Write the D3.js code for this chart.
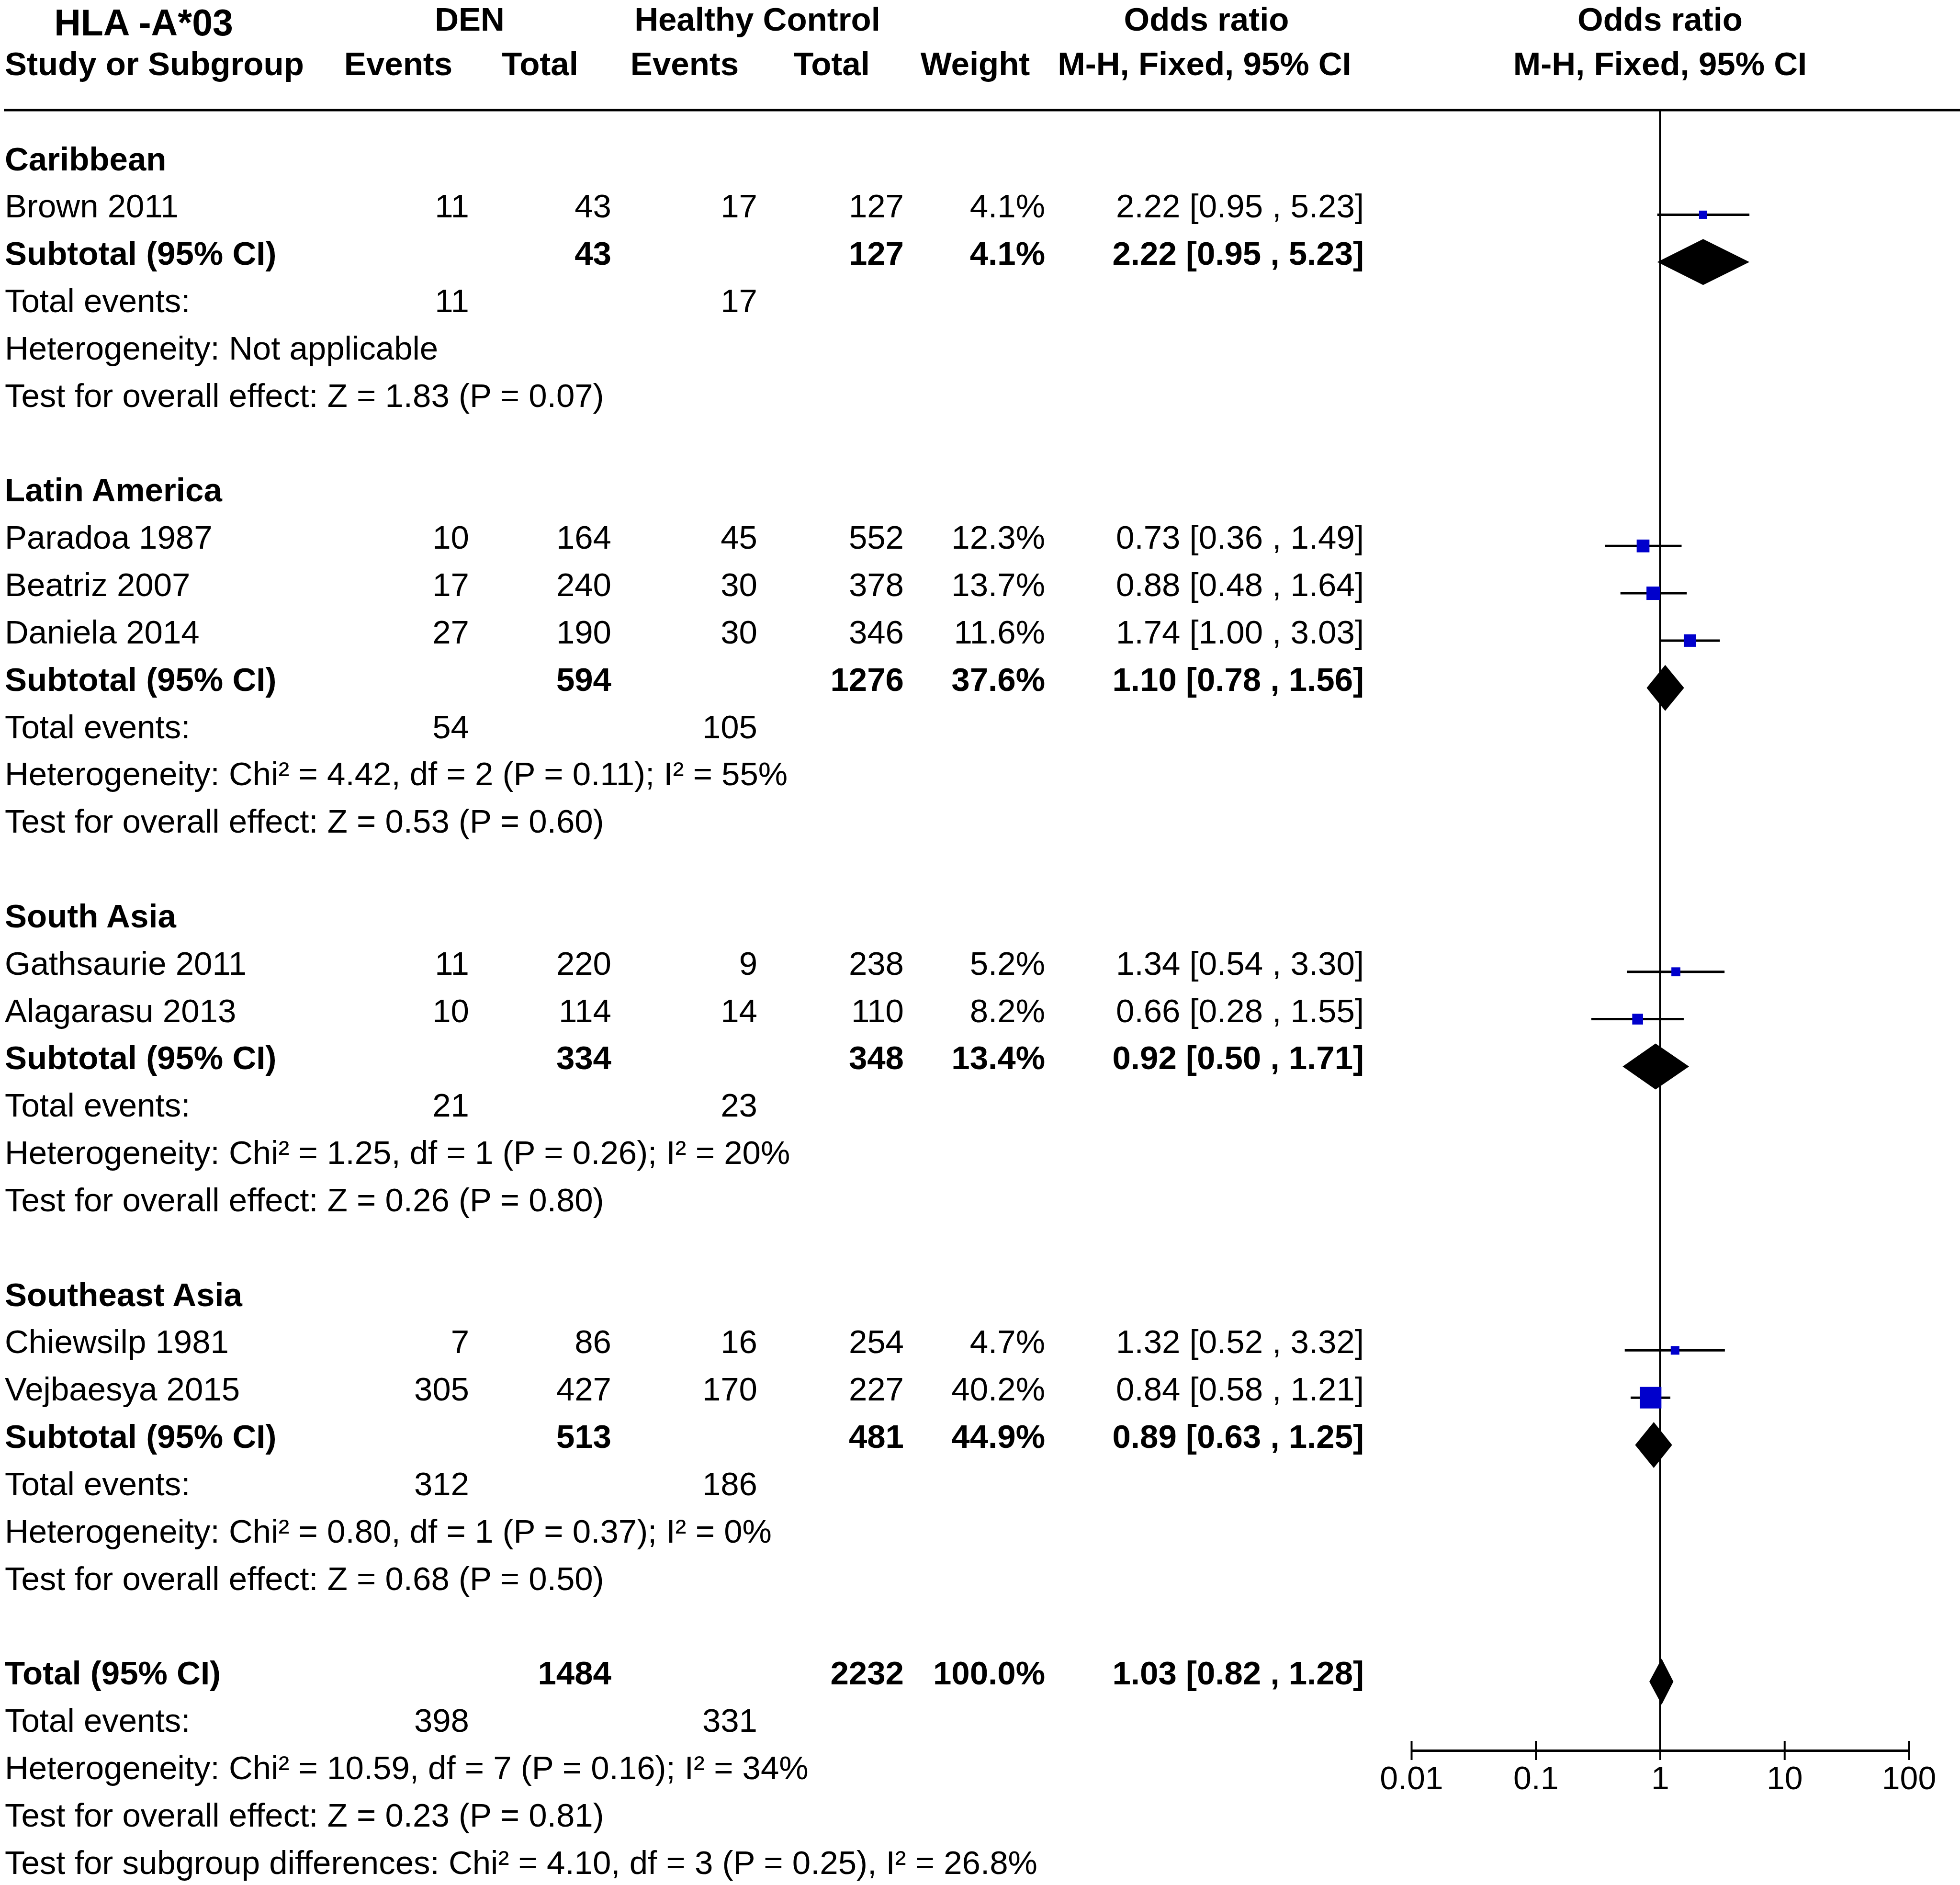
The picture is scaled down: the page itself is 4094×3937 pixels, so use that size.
<!DOCTYPE html>
<html>
<head>
<meta charset="utf-8">
<script src="https://cdn.jsdelivr.net/npm/d3@7"></script>
<style>
body { margin: 0; background: #fff; }
text { font-family: "Liberation Sans", Arial, sans-serif; font-size: 69px; fill: #000; }
</style>
</head>
<body>
<div id="chart"></div>
<script>
const groupNames = ["Caribbean", "Latin America", "South Asia", "Southeast Asia"];

const studyNames = ["Brown 2011", "Paradoa 1987", "Beatriz 2007", "Daniela 2014",
                    "Gathsaurie 2011", "Alagarasu 2013", "Chiewsilp 1981", "Vejbaesya 2015"];
const studyGroup = [0, 1, 1, 1, 2, 2, 3, 3];
const denEvents = [11, 10, 17, 27, 11, 10, 7, 305];
const denTotal = [43, 164, 240, 190, 220, 114, 86, 427];
const hcEvents = [17, 45, 30, 30, 9, 14, 16, 170];
const hcTotal = [127, 552, 378, 346, 238, 110, 254, 227];
const studyWeight = [4.1, 12.3, 13.7, 11.6, 5.2, 8.2, 4.7, 40.2];
const studyOR = [2.22, 0.73, 0.88, 1.74, 1.34, 0.66, 1.32, 0.84];
const studyLow = [0.95, 0.36, 0.48, 1.00, 0.54, 0.28, 0.52, 0.58];
const studyHigh = [5.23, 1.49, 1.64, 3.03, 3.30, 1.55, 3.32, 1.21];

const subDenTotal = [43, 594, 334, 513];
const subHcTotal = [127, 1276, 348, 481];
const subWeight = [4.1, 37.6, 13.4, 44.9];
const subOR = [2.22, 1.10, 0.92, 0.89];
const subLow = [0.95, 0.78, 0.50, 0.63];
const subHigh = [5.23, 1.56, 1.71, 1.25];
const subDenEvents = [11, 54, 21, 312];
const subHcEvents = [17, 105, 23, 186];
const subHeterogeneity = [
  "Heterogeneity: Not applicable",
  "Heterogeneity: Chi\u00b2 = 4.42, df = 2 (P = 0.11); I\u00b2 = 55%",
  "Heterogeneity: Chi\u00b2 = 1.25, df = 1 (P = 0.26); I\u00b2 = 20%",
  "Heterogeneity: Chi\u00b2 = 0.80, df = 1 (P = 0.37); I\u00b2 = 0%"
];
const subEffect = [
  "Test for overall effect: Z = 1.83 (P = 0.07)",
  "Test for overall effect: Z = 0.53 (P = 0.60)",
  "Test for overall effect: Z = 0.26 (P = 0.80)",
  "Test for overall effect: Z = 0.68 (P = 0.50)"
];

const overall = { den: 1484, hc: 2232, weight: 100.0, or: 1.03, lo: 0.82, hi: 1.28, denEv: 398, hcEv: 331 };
const overallNotes = [
  "Heterogeneity: Chi\u00b2 = 10.59, df = 7 (P = 0.16); I\u00b2 = 34%",
  "Test for overall effect: Z = 0.23 (P = 0.81)",
  "Test for subgroup differences: Chi\u00b2 = 4.10, df = 3 (P = 0.25), I\u00b2 = 26.8%"
];

const axisTicks = [0.01, 0.1, 1, 10, 100];

const width = 4094;
const height = 3937;

// column right edges for numbers
const col = { denE: 980, denN: 1277, hcE: 1582, hcN: 1888, weight: 2183, ci: 2849 };
const axisY = 3656;

// build the list of rows
const rows = [];
groupNames.forEach((g, gi) => {
  rows.push({ type: "group", label: g });
  studyGroup.forEach((sg, si) => { if (sg === gi) rows.push({ type: "study", i: si }); });
  rows.push({ type: "subtotal", i: gi });
  rows.push({ type: "events", den: subDenEvents[gi], hc: subHcEvents[gi] });
  rows.push({ type: "note", label: subHeterogeneity[gi] });
  rows.push({ type: "note", label: subEffect[gi] });
  rows.push({ type: "blank" });
});
rows.push({ type: "total" });
rows.push({ type: "events", den: overall.denEv, hc: overall.hcEv });
overallNotes.forEach(n => rows.push({ type: "note", label: n }));

const yRow = d3.scaleLinear().domain([0, rows.length - 1]).range([331.6, 3889.5]);
const xScale = d3.scaleLog().domain([0.01, 100]).range([2948, 3987]);
const boxSize = d3.scaleSqrt().domain([0, 40.2]).range([4, 45]);

const f2 = d3.format(".2f");
const f1 = d3.format(".1f");
const ciText = (o, l, h) => `${f2(o)} [${f2(l)} , ${f2(h)}]`;

const svg = d3.select('#chart')
  .append('svg')
  .attr('width', width)
  .attr('height', height);

// header
const head = svg.append('g').style('font-weight', 'bold');
head.append('text').attr('x', 300).attr('y', 74).attr('text-anchor', 'middle')
  .style('font-size', '77px').text('HLA -A*03');
[["DEN", 981], ["Healthy Control", 1582], ["Odds ratio", 2520], ["Odds ratio", xScale(1)]]
  .forEach(([t, x]) => head.append('text').attr('x', x).attr('y', 64).attr('text-anchor', 'middle').text(t));
head.append('text').attr('x', 10).attr('y', 157).text('Study or Subgroup');
[["Events", 832], ["Total", 1128], ["Events", 1430], ["Total", 1737], ["Weight", 2037],
 ["M-H, Fixed, 95% CI", 2516], ["M-H, Fixed, 95% CI", xScale(1)]]
  .forEach(([t, x]) => head.append('text').attr('x', x).attr('y', 157).attr('text-anchor', 'middle').text(t));

svg.append('line')
  .attr('x1', 8).attr('x2', width).attr('y1', 230).attr('y2', 230)
  .attr('stroke', '#000').attr('stroke-width', 5);

// line of no effect
svg.append('line')
  .attr('x1', xScale(1)).attr('x2', xScale(1)).attr('y1', 232).attr('y2', axisY)
  .attr('stroke', '#000').attr('stroke-width', 4);

const body = svg.append('g');
function txt(x, y, s, anchor, bold) {
  body.append('text').attr('x', x).attr('y', y)
    .attr('text-anchor', anchor || 'start')
    .style('font-weight', bold ? 'bold' : 'normal')
    .text(s);
}

function diamond(o, l, h, cy) {
  const hh = 48;
  body.append('path')
    .attr('d', `M${xScale(l)},${cy}L${xScale(o)},${cy - hh}L${xScale(h)},${cy}L${xScale(o)},${cy + hh}Z`)
    .attr('fill', '#000');
}

rows.forEach((r, i) => {
  const yc = yRow(i);
  const yb = yc + 24;
  const ym = yc + 18;
  if (r.type === "group") {
    txt(10, yb, r.label, 'start', true);
  } else if (r.type === "study") {
    const k = r.i;
    txt(10, yb, studyNames[k]);
    txt(col.denE, yb, denEvents[k], 'end');
    txt(col.denN, yb, denTotal[k], 'end');
    txt(col.hcE, yb, hcEvents[k], 'end');
    txt(col.hcN, yb, hcTotal[k], 'end');
    txt(col.weight, yb, f1(studyWeight[k]) + '%', 'end');
    txt(col.ci, yb, ciText(studyOR[k], studyLow[k], studyHigh[k]), 'end');
    body.append('line')
      .attr('x1', xScale(studyLow[k])).attr('x2', xScale(studyHigh[k]))
      .attr('y1', ym).attr('y2', ym)
      .attr('stroke', '#000').attr('stroke-width', 5);
    const s = boxSize(studyWeight[k]);
    body.append('rect')
      .attr('x', xScale(studyOR[k]) - s / 2).attr('y', ym - s / 2)
      .attr('width', s).attr('height', s)
      .attr('fill', '#0000cc');
  } else if (r.type === "subtotal") {
    const k = r.i;
    txt(10, yb, 'Subtotal (95% CI)', 'start', true);
    txt(col.denN, yb, subDenTotal[k], 'end', true);
    txt(col.hcN, yb, subHcTotal[k], 'end', true);
    txt(col.weight, yb, f1(subWeight[k]) + '%', 'end', true);
    txt(col.ci, yb, ciText(subOR[k], subLow[k], subHigh[k]), 'end', true);
    diamond(subOR[k], subLow[k], subHigh[k], ym);
  } else if (r.type === "total") {
    txt(10, yb, 'Total (95% CI)', 'start', true);
    txt(col.denN, yb, overall.den, 'end', true);
    txt(col.hcN, yb, overall.hc, 'end', true);
    txt(col.weight, yb, f1(overall.weight) + '%', 'end', true);
    txt(col.ci, yb, ciText(overall.or, overall.lo, overall.hi), 'end', true);
    diamond(overall.or, overall.lo, overall.hi, ym);
  } else if (r.type === "events") {
    txt(10, yb, 'Total events:');
    txt(col.denE, yb, r.den, 'end');
    txt(col.hcE, yb, r.hc, 'end');
  } else if (r.type === "note") {
    txt(10, yb, r.label);
  }
});

// axis
const axis = d3.axisBottom(xScale)
  .tickValues(axisTicks)
  .tickFormat(d3.format("~g"))
  .tickSizeOuter(0);
const ax = svg.append('g').attr('transform', `translate(0,${axisY})`).call(axis);
ax.select('.domain').attr('stroke', '#000').attr('stroke-width', 5);
ax.selectAll('.tick line').attr('y1', -20).attr('y2', 20).attr('stroke', '#000').attr('stroke-width', 4);
ax.selectAll('.tick text')
  .attr('y', 81).attr('dy', null)
  .style('font-family', '"Liberation Sans", Arial, sans-serif')
  .style('font-size', '68px').attr('fill', '#000');
</script>
</body>
</html>
